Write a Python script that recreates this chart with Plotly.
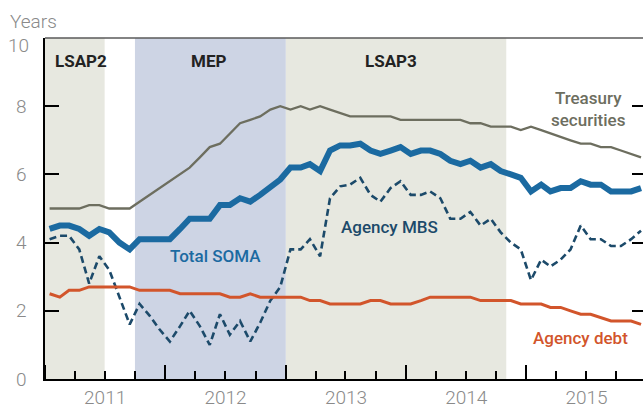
import plotly.graph_objects as go
import pandas as pd

# ---------------- data (weighted average maturity, years) ----------------
months = [d.strftime("%Y-%m-15") for d in pd.date_range("2011-01-01", "2015-12-01", freq="MS")]

treasury = [5.0, 5.0, 5.0, 5.0, 5.1, 5.1, 5.0, 5.0, 5.0, 5.2,
            5.4, 5.6, 5.8, 6.0, 6.2, 6.5, 6.8, 6.9, 7.2, 7.5,
            7.6, 7.7, 7.9, 8.0, 7.9, 8.0, 7.9, 8.0, 7.9, 7.8,
            7.7, 7.7, 7.7, 7.7, 7.7, 7.6, 7.6, 7.6, 7.6, 7.6,
            7.6, 7.6, 7.5, 7.5, 7.4, 7.4, 7.4, 7.3, 7.4, 7.3,
            7.2, 7.1, 7.0, 6.9, 6.9, 6.8, 6.8, 6.7, 6.6, 6.5]

total_soma = [4.4, 4.5, 4.5, 4.4, 4.2, 4.4, 4.3, 4.0, 3.8, 4.1,
              4.1, 4.1, 4.1, 4.4, 4.7, 4.7, 4.7, 5.1, 5.1, 5.3,
              5.2, 5.4, 5.65, 5.85, 6.2, 6.2, 6.3, 6.1, 6.7, 6.85,
              6.85, 6.9, 6.7, 6.6, 6.7, 6.8, 6.6, 6.7, 6.7, 6.6,
              6.4, 6.3, 6.4, 6.2, 6.3, 6.1, 6.0, 5.9, 5.5, 5.7,
              5.5, 5.6, 5.6, 5.8, 5.7, 5.7, 5.5, 5.5, 5.5, 5.6]

agency_mbs = [4.1, 4.2, 4.2, 3.8, 2.8, 3.6, 3.2, 2.4, 1.6, 2.2,
              1.85, 1.45, 1.1, 1.55, 2.0, 1.55, 1.0, 1.9, 1.3, 1.7,
              1.1, 1.65, 2.3, 2.7, 3.8, 3.8, 4.1, 3.6, 5.3, 5.65,
              5.7, 5.9, 5.4, 5.2, 5.6, 5.8, 5.4, 5.4, 5.5, 5.3,
              4.7, 4.7, 4.9, 4.5, 4.7, 4.3, 4.0, 3.8, 2.9, 3.5,
              3.3, 3.5, 3.8, 4.5, 4.1, 4.1, 3.9, 3.9, 4.1, 4.35]

agency_debt = [2.5, 2.4, 2.6, 2.6, 2.7, 2.7, 2.7, 2.7, 2.7, 2.6,
               2.6, 2.6, 2.6, 2.5, 2.5, 2.5, 2.5, 2.5, 2.4, 2.4,
               2.5, 2.4, 2.4, 2.4, 2.4, 2.4, 2.3, 2.3, 2.2, 2.2,
               2.2, 2.2, 2.3, 2.3, 2.2, 2.2, 2.2, 2.3, 2.4, 2.4,
               2.4, 2.4, 2.4, 2.3, 2.3, 2.3, 2.3, 2.2, 2.2, 2.2,
               2.1, 2.1, 2.0, 1.9, 1.9, 1.8, 1.7, 1.7, 1.7, 1.6]

programs = ["LSAP2", "MEP", "LSAP3"]
program_start = ["2011-01-01", "2011-10-01", "2013-01-01"]
program_end = ["2011-07-01", "2013-01-01", "2014-11-01"]

y_ticks = [0, 2, 4, 6, 8, 10]
y_ticktext = ["0", "2", "4", "6", "8", ""]   # "10" is placed separately, hanging below the top line
x_range = ["2011-01-01", "2015-12-21"]

# ---------------- styles ----------------
C_TREAS = "#6d6e5f"
C_SOMA = "#1b6aa1"
C_MBS = "#1c4a6a"
C_DEBT = "#d2552b"
SHADE = {"LSAP2": "#e7e8e0", "MEP": "#cdd4e4", "LSAP3": "#e7e8e0"}
TICK_FONT = dict(family="Roboto", size=19, color="#8a8a8a", weight=300)

fig = go.Figure()

for name, s, e in zip(programs, program_start, program_end):
    fig.add_vrect(x0=s, x1=e, fillcolor=SHADE[name], opacity=1, line_width=0, layer="below")

fig.add_trace(go.Scatter(x=months, y=treasury, mode="lines",
                         line=dict(color=C_TREAS, width=2.3), name="Treasury securities"))
# agency debt drawn against the (identical) right-hand axis so its mirrored ticks render
fig.add_trace(go.Scatter(x=months, y=agency_debt, mode="lines", yaxis="y2",
                         line=dict(color=C_DEBT, width=3), name="Agency debt"))
fig.add_trace(go.Scatter(x=months, y=agency_mbs, mode="lines",
                         line=dict(color=C_MBS, width=2.6, dash="7px,4px"), name="Agency MBS"))
fig.add_trace(go.Scatter(x=months, y=total_soma, mode="lines",
                         line=dict(color=C_SOMA, width=6), name="Total SOMA"))

# program labels
label_dates = ["2011-04-20", "2012-05-10", "2013-11-15"]
for name, d in zip(programs, label_dates):
    fig.add_annotation(x=d, y=9.33, text=name, showarrow=False,
                       font=dict(family="Roboto", size=17, color="#222222", weight=700))

series_labels = [
    ("2015-07-10", 7.93, "Treasury<br>securities", C_TREAS),
    ("2012-06-01", 3.61, "Total SOMA", C_SOMA),
    ("2013-11-12", 4.45, "Agency MBS", C_MBS),
    ("2015-06-14", 1.21, "Agency debt", C_DEBT),
]
for d, v, t, c in series_labels:
    fig.add_annotation(x=d, y=v, text=t, showarrow=False,
                       font=dict(family="Roboto", size=17, color=c, weight=500))

fig.add_annotation(xref="paper", yref="paper", x=-0.062, y=1.048, xanchor="left",
                   yanchor="middle", text="Years", showarrow=False, font=TICK_FONT)
fig.add_annotation(xref="paper", yref="y", x=-0.023, y=y_ticks[-1], xanchor="right",
                   yanchor="middle", yshift=-7, text=str(y_ticks[-1]), showarrow=False,
                   font=TICK_FONT)

# top border line
fig.add_shape(type="line", xref="paper", yref="paper", x0=0, x1=1, y0=1, y1=1,
              line=dict(color="#5a5a5a", width=1.5))

fig.update_layout(
    width=643, height=407,
    margin=dict(l=45, r=0, t=38, b=28),
    plot_bgcolor="white", paper_bgcolor="white",
    showlegend=False,
    xaxis=dict(
        type="date", range=x_range, showgrid=False, zeroline=False, automargin=False,
        showline=True, linecolor="black", linewidth=1.5,
        tick0="2011-01-01", dtick="M12", tickformat="%Y", ticklabelmode="period",
        ticks="inside", ticklen=14, tickwidth=1.5, tickcolor="black",
        tickfont=TICK_FONT, ticklabelstandoff=0,
        minor=dict(ticks="inside", ticklen=8, tickwidth=1.5, tickcolor="black",
                   dtick="M3", tick0="2011-01-01", showgrid=False),
    ),
    yaxis=dict(
        range=[0, 10], tickvals=y_ticks, ticktext=y_ticktext, automargin=False,
        showgrid=False, zeroline=False,
        showline=True, linecolor="black", linewidth=1.5,
        ticks="inside", ticklen=14, tickwidth=1.5, tickcolor="black",
        tickfont=TICK_FONT, ticklabelstandoff=13,
    ),
    yaxis2=dict(
        overlaying="y", side="right", range=[0, 10], tickvals=y_ticks, automargin=False,
        showgrid=False, zeroline=False, showline=False, showticklabels=False,
        ticks="inside", ticklen=11, tickwidth=1.5, tickcolor="black",
    ),
)

# remove the browser's default 8px body margin so the figure sits at the page origin
fig.write_html("out.html", config={"displayModeBar": False},
               post_script="document.body.style.margin='0';")
